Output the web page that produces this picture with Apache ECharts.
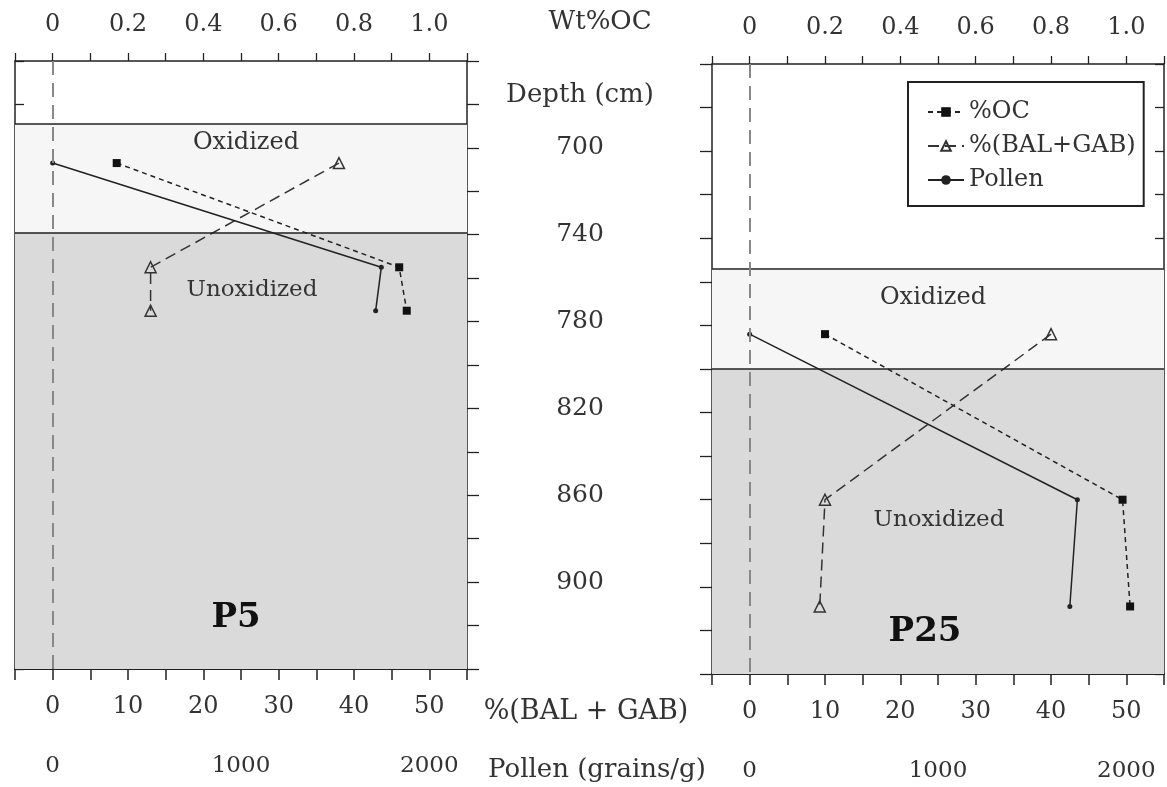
<!DOCTYPE html>
<html>
<head>
<meta charset="utf-8">
<script src="https://cdn.jsdelivr.net/npm/echarts@6/dist/echarts.min.js"></script>
<style>html,body{margin:0;padding:0;background:#fff;}#c{width:1167px;height:787px;}</style>
</head>
<body>
<div id="c"></div>
<script>
// ---- Data ----
const depthP5 = [707, 755, 775];
const ocP5 = [0.17, 0.92, 0.94];
const balP5 = [38, 13, 13];
const pollenP5 = [0, 1745, 1715];
const oxidizedP5 = [689, 739];

const depthP25 = [784, 860, 909];
const ocP25 = [0.20, 0.99, 1.01];
const balP25 = [40, 10, 9.3];
const pollenP25 = [0, 1740, 1700];
const oxidizedP25 = [754, 800];

const depthRange = [660, 940];
const ocTickLabels = ['0', '0.2', '0.4', '0.6', '0.8', '1.0'];
const balTickLabels = [0, 10, 20, 30, 40, 50];
const pollenTickLabels = [0, 1000, 2000];
const depthTickLabels = [700, 740, 780, 820, 860, 900];

const FONT = 'DejaVu Serif';
const INK = '#222';

function pairs(xs, ys) { return xs.map((x, i) => [x, ys[i]]); }

function ocAxis(grid) {
  return {
    type: 'value', gridIndex: grid, position: 'top', min: -0.1, max: 1.1, interval: 0.1,
    axisLine: { show: true, onZero: false, lineStyle: { color: INK, width: 1.5 } },
    axisTick: { show: true, inside: false, length: 8, lineStyle: { color: INK, width: 1.3 } },
    splitLine: { show: false },
    axisLabel: {
      show: true, margin: 24, fontFamily: FONT, fontSize: 24, color: '#333',
      formatter: v => { const r = Math.round(v * 10); if (r < 0 || r > 10 || r % 2) return ''; return ocTickLabels[r / 2]; }
    }
  };
}
function balAxis(grid) {
  return {
    type: 'value', gridIndex: grid, position: 'bottom', min: -5, max: 55, interval: 5,
    axisLine: { show: true, onZero: false, lineStyle: { color: INK, width: 2 } },
    axisTick: { show: true, inside: false, length: 11, lineStyle: { color: INK, width: 1.5 } },
    splitLine: { show: false },
    axisLabel: {
      show: true, margin: 26, fontFamily: FONT, fontSize: 24, color: '#333',
      formatter: v => { const r = Math.round(v); return balTickLabels.indexOf(r) >= 0 ? String(r) : ''; }
    }
  };
}
function pollenAxis(grid) {
  return {
    type: 'value', gridIndex: grid, position: 'bottom', offset: 60, min: -200, max: 2200, interval: 200,
    axisLine: { show: false, onZero: false }, axisTick: { show: false }, splitLine: { show: false },
    axisLabel: {
      show: true, margin: 26, fontFamily: FONT, fontSize: 23, color: '#333',
      formatter: v => { const r = Math.round(v); return pollenTickLabels.indexOf(r) >= 0 ? String(r) : ''; }
    }
  };
}
function depthAxis(grid, pos, inside, labels) {
  return {
    type: 'value', gridIndex: grid, position: pos, inverse: true,
    min: depthRange[0], max: depthRange[1], interval: 20,
    axisLine: { show: true, onZero: false, lineStyle: { color: INK, width: 1.5 } },
    axisTick: { show: true, inside: inside, length: inside ? 9 : 12, lineStyle: { color: INK, width: 1.3 } },
    splitLine: { show: false },
    axisLabel: labels ? {
      show: true, margin: 113, align: 'center', fontFamily: FONT, fontSize: 25, color: '#333',
      formatter: v => { const r = Math.round(v); return depthTickLabels.indexOf(r) >= 0 ? String(r) : ''; }
    } : { show: false }
  };
}

function panelSeries(xBase, yIdx, depth, oc, bal, pollen, ox) {
  return [
    {
      name: '%(BAL+GAB)', type: 'line', xAxisIndex: xBase + 1, yAxisIndex: yIdx,
      data: pairs(bal, depth), symbol: 'triangle', symbolSize: 11,
      lineStyle: { color: '#333', width: 1.5, type: [11, 6] },
      itemStyle: { color: 'rgba(255,255,255,0)', borderColor: '#333', borderWidth: 1.5 },
      z: 3,
      markArea: {
        silent: true,
        data: [
          [{ yAxis: ox[0], itemStyle: { color: '#f6f6f6' } }, { yAxis: ox[1] }],
          [{ yAxis: ox[1], itemStyle: { color: '#dadada' } }, { yAxis: depthRange[1] }]
        ]
      }
    },
    {
      name: '%OC', type: 'line', xAxisIndex: xBase, yAxisIndex: yIdx,
      data: pairs(oc, depth), symbol: 'rect', symbolSize: 8,
      lineStyle: { color: '#222', width: 1.5, type: [5, 4] },
      itemStyle: { color: '#111' }, z: 4,
      markLine: {
        silent: true, symbol: ['none', 'none'], label: { show: false },
        lineStyle: { color: '#222', width: 1.5, type: 'solid' },
        data: [{ yAxis: ox[0] }, { yAxis: ox[1] }]
      }
    },
    {
      name: 'Pollen', type: 'line', xAxisIndex: xBase + 2, yAxisIndex: yIdx,
      data: pairs(pollen, depth), symbol: 'circle', symbolSize: 5,
      lineStyle: { color: '#222', width: 1.5, type: 'solid' },
      itemStyle: { color: '#222' }, z: 4,
      markLine: {
        silent: true, symbol: ['none', 'none'], label: { show: false },
        lineStyle: { color: '#888', width: 2, type: [14, 8] },
        data: [{ xAxis: 0 }]
      }
    }
  ];
}

function txt(x, y, s, size, bold) {
  return { type: 'text', x: x, y: y, z: 50, style: { text: s, x: 0, y: 0, align: 'center', verticalAlign: 'middle',
    font: (bold ? 'bold ' : '') + size + 'px "' + FONT + '"', fill: bold ? '#111' : '#333' } };
}

const chart = echarts.init(document.getElementById('c'), null, { renderer: 'canvas' });
chart.setOption({
  animation: false,
  backgroundColor: '#fff',
  grid: [
    { left: 15, right: 1167 - 467, top: 61, bottom: 787 - 669 },
    { left: 712, right: 1167 - 1165, top: 64, bottom: 787 - 674 }
  ],
  xAxis: [ocAxis(0), balAxis(0), pollenAxis(0), ocAxis(1), balAxis(1), pollenAxis(1)],
  yAxis: [depthAxis(0, 'left', true, false), depthAxis(0, 'right', false, true),
          depthAxis(1, 'left', false, false), depthAxis(1, 'right', true, false)],
  legend: {
    orient: 'vertical', left: 908, top: 82,
    data: ['%OC', '%(BAL+GAB)', 'Pollen'],
    itemWidth: 36, itemHeight: 12, itemGap: 10,
    padding: [18, 8, 14, 19],
    borderColor: '#222', borderWidth: 2, backgroundColor: '#fff',
    textStyle: { fontFamily: FONT, fontSize: 24, color: '#333', lineHeight: 24 }
  },
  graphic: [
    txt(600, 22, 'Wt%OC', 26),
    txt(580, 95, 'Depth (cm)', 26),
    txt(586, 712, '%(BAL + GAB)', 27),
    txt(597, 770, 'Pollen (grains/g)', 26),
    txt(246, 143, 'Oxidized', 24),
    txt(252, 290, 'Unoxidized', 23),
    txt(236, 618, 'P5', 34, true),
    txt(933, 298, 'Oxidized', 24),
    txt(939, 520, 'Unoxidized', 23),
    txt(925, 632, 'P25', 34, true)
  ],
  series: [].concat(
    panelSeries(0, 0, depthP5, ocP5, balP5, pollenP5, oxidizedP5),
    panelSeries(3, 2, depthP25, ocP25, balP25, pollenP25, oxidizedP25)
  )
});
</script>
</body>
</html>
